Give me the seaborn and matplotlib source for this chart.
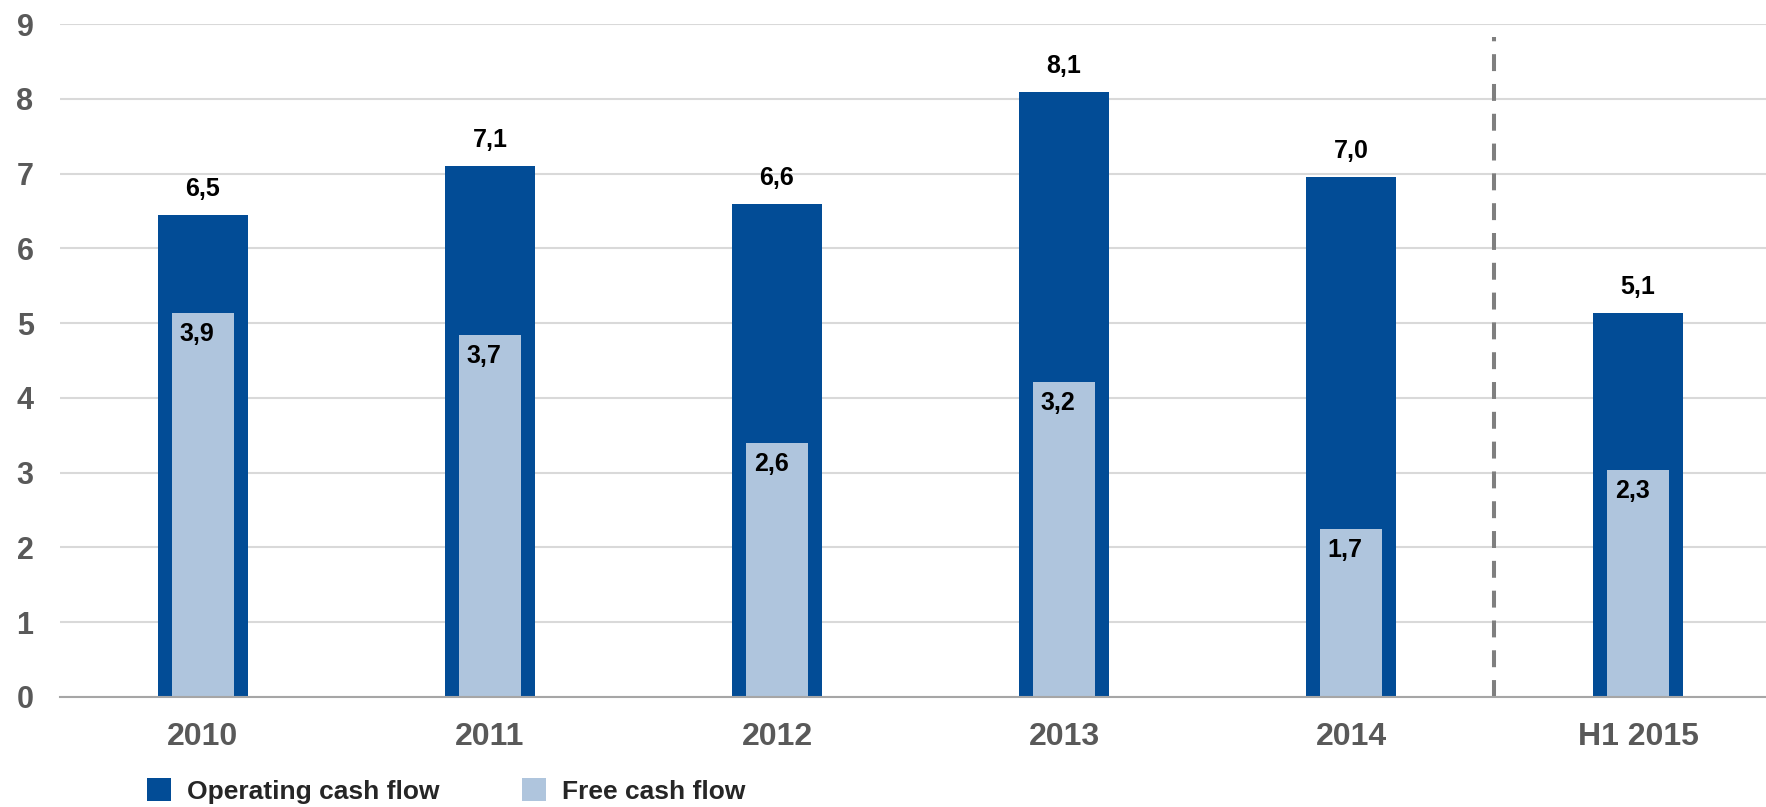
import matplotlib
matplotlib.use("Agg")
import matplotlib.pyplot as plt
from matplotlib.patches import Patch
import seaborn as sns
import pandas as pd

# ---- data ----
categories = ["2010", "2011", "2012", "2013", "2014", "H1 2015"]
operating_cf = [6.45, 7.10, 6.59, 8.09, 6.95, 5.13]
free_cf = [5.13, 4.84, 3.40, 4.21, 2.24, 3.03]
operating_labels = ["6,5", "7,1", "6,6", "8,1", "7,0", "5,1"]
free_labels = ["3,9", "3,7", "2,6", "3,2", "1,7", "2,3"]
yticks = [0, 1, 2, 3, 4, 5, 6, 7, 8, 9]
series_names = ["Operating cash flow", "Free cash flow"]

DARK = "#024C96"
LIGHT = "#AFC5DD"
TICK_GRAY = "#595959"

sns.set_theme(style="white")
plt.rcParams["font.family"] = ["Liberation Sans", "DejaVu Sans"]
plt.rcParams["font.weight"] = "bold"

df = pd.DataFrame({"cat": categories, "ocf": operating_cf, "fcf": free_cf})

fig = plt.figure(figsize=(17.66, 8.07), dpi=100)
ax = fig.add_axes([60 / 1766, 1 - 697 / 807, 1 - 60 / 1766, (697 - 24) / 807])

sns.barplot(data=df, x="cat", y="ocf", color=DARK, width=0.314, ax=ax,
            saturation=1, linewidth=0, zorder=2)
sns.barplot(data=df, x="cat", y="fcf", color=LIGHT, width=0.218, ax=ax,
            saturation=1, linewidth=0, zorder=3)

ax.set_ylim(0, 9)
ax.set_xlim(-0.498, 5.446)
ax.set_yticks(yticks)
ax.set_yticklabels([str(t) for t in yticks])
ax.yaxis.grid(True, color="#D9D9D9", linewidth=1.5, zorder=0)
ax.set_axisbelow(True)
for s in ["top", "right", "left"]:
    ax.spines[s].set_visible(False)
ax.spines["bottom"].set_color("#A6A6A6")
ax.spines["bottom"].set_linewidth(1.5)
ax.spines["bottom"].set_zorder(4)
ax.tick_params(axis="both", length=0, labelcolor=TICK_GRAY)
ax.tick_params(axis="x", pad=18, labelsize=23)
ax.tick_params(axis="y", pad=19, labelsize=22)
for lab in ax.get_xticklabels() + ax.get_yticklabels():
    lab.set_fontweight("bold")
ax.set_xlabel("")
ax.set_ylabel("")

# value labels
for i, (v, t) in enumerate(zip(operating_cf, operating_labels)):
    ax.text(i, v + 0.35, t, ha="center", va="center", fontsize=18,
            fontweight="bold", color="black", zorder=5)
for i, (v, t) in enumerate(zip(free_cf, free_labels)):
    ax.text(i - 0.02, v - 0.28, t, ha="center", va="center", fontsize=18,
            fontweight="bold", color="black", zorder=5)

# dashed separator between 2014 and H1 2015
ax.axvline(4.5, ymin=0, ymax=(697 - 37) / (697 - 24), color="#7F7F7F",
           linewidth=2.9, dashes=(4.2, 3.2), zorder=1)

handles = [Patch(facecolor=DARK, edgecolor="none", label=series_names[0]),
           Patch(facecolor=LIGHT, edgecolor="none", label=series_names[1])]
fig.legend(handles=handles, loc="center left",
           bbox_to_anchor=(147 / 1766, 1 - 791 / 807), ncol=2, frameon=False,
           prop={"weight": "bold", "size": 19},
           handlelength=0.91, handleheight=0.91, handletextpad=0.6,
           columnspacing=3.15, borderpad=0, borderaxespad=0)

fig.savefig("out.png", dpi=100)
